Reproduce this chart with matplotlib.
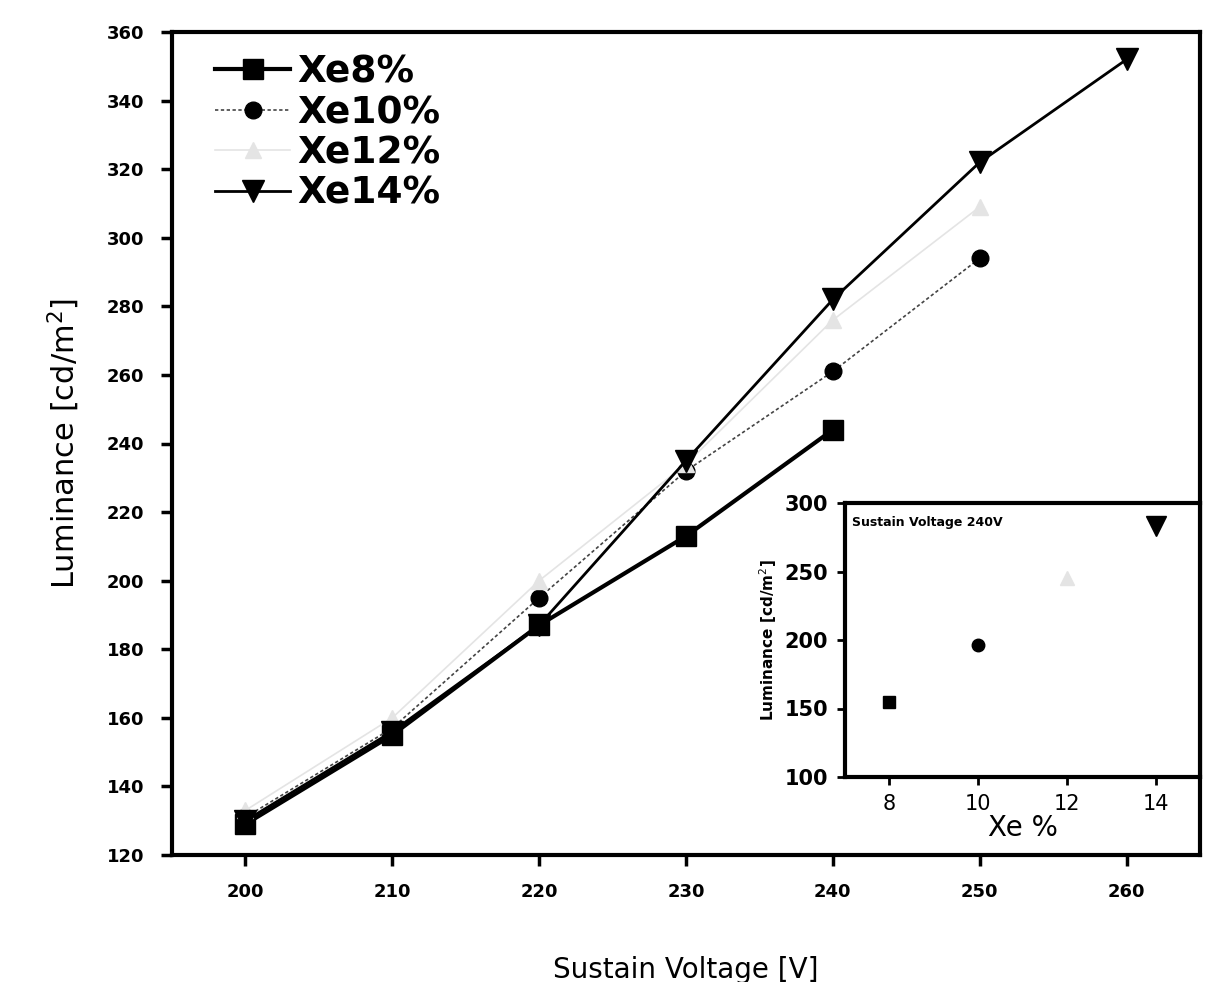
import matplotlib
matplotlib.use('Agg')
import matplotlib.pyplot as plt

# sustain voltage [V]
voltage = [200, 210, 220, 230, 240, 250, 260]

# luminance [cd/m2] per Xe content
xe8 = [129, 155, 187, 213, 244]
xe10 = [131, 157, 195, 232, 261, 294]
xe12 = [133, 160, 200, 234, 276, 309]
xe14 = [130, 156, 187, 235, 282, 322, 352]

# inset: luminance vs Xe %
xe_pct = [8, 10, 12, 14]
inset_lum = [155, 196, 245, 283]

xticks = [200, 210, 220, 230, 240, 250, 260]
yticks = [120, 140, 160, 180, 200, 220, 240, 260, 280, 300, 320, 340, 360]

fig = plt.figure(figsize=(12.2, 9.82), dpi=100)
ax = fig.add_axes([172 / 1220, 1 - 855 / 982, 1028 / 1220, 823 / 982])

ax.plot(voltage[:len(xe8)], xe8, color='black', lw=3, marker='s', ms=14, label='Xe8%')
ax.plot(voltage[:len(xe10)], xe10, color='#444444', lw=1.2, ls=(0, (2, 1.5)), marker='o', ms=12,
        mfc='black', mec='black', label='Xe10%')
ax.plot(voltage[:len(xe12)], xe12, color='#e4e4e4', lw=1.2, marker='^', ms=12, label='Xe12%')
ax.plot(voltage[:len(xe14)], xe14, color='black', lw=2, marker='v', ms=16, label='Xe14%')

ax.set_xlim(195, 265)
ax.set_ylim(120, 360)
ax.set_xticks(xticks)
ax.set_yticks(yticks)
ax.tick_params(direction='out', length=8, width=2.5, labelsize=13, pad=12)
for lab in ax.get_xticklabels() + ax.get_yticklabels():
    lab.set_fontweight('bold')
for s in ax.spines.values():
    s.set_linewidth(3)

ax.set_xlabel('Sustain Voltage [V]', fontsize=20, labelpad=40)
ax.set_ylabel('Luminance [cd/m$^2$]', fontsize=22, labelpad=18)

leg = ax.legend(loc='upper left', frameon=False, prop={'size': 27, 'weight': 'bold'},
                handlelength=2.0, handletextpad=0.2, labelspacing=0.12,
                borderaxespad=0.2, bbox_to_anchor=(0.02, 1.0))

# inset
ins = fig.add_axes([845 / 1220, 1 - 777 / 982, 355 / 1220, 274 / 982])
ins.plot(xe_pct[0], inset_lum[0], ls='none', marker='s', ms=8, color='black')
ins.plot(xe_pct[1], inset_lum[1], ls='none', marker='o', ms=9, color='black')
ins.plot(xe_pct[2], inset_lum[2], ls='none', marker='^', ms=10, color='#e4e4e4')
ins.plot(xe_pct[3], inset_lum[3], ls='none', marker='v', ms=14, color='black')
ins.set_xlim(7, 15)
ins.set_ylim(100, 300)
ins.set_xticks([8, 10, 12, 14])
ins.set_yticks([100, 150, 200, 250, 300])
ins.tick_params(direction='out', length=6, width=2, labelsize=15, pad=6)
for lab in ins.get_yticklabels():
    lab.set_fontweight('bold')
for s in ins.spines.values():
    s.set_linewidth(3)
ins.set_xlabel('Xe %', fontsize=20, labelpad=0)
ins.set_ylabel('Luminance [cd/m$^2$]', fontsize=11, fontweight='bold', labelpad=4)
ins.text(0.02, 0.93, 'Sustain Voltage 240V', transform=ins.transAxes, fontsize=9,
         fontweight='bold', va='center', ha='left')

fig.savefig('out.png', dpi=100)
plt.close()
